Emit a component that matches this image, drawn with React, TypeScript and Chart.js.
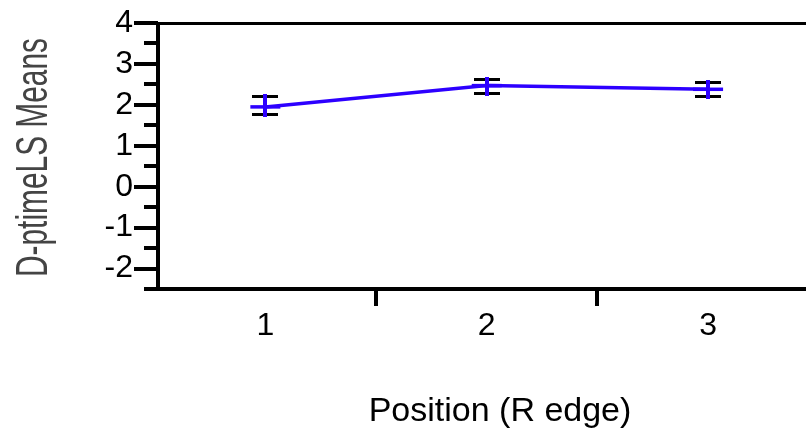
import React, { useEffect, useRef } from 'react';
import { Chart, registerables } from 'chart.js';

Chart.register(...registerables);

// ---- data ----
const positions = [1, 2, 3];
const lsMeans = [1.95, 2.47, 2.38];
const upperLimits = [2.21, 2.64, 2.55];
const lowerLimits = [1.78, 2.29, 2.21];
const xTickValues = [1, 2, 3];
const xMinorTickValues = [1.5, 2.5];
const yTickValues = [-2, -1, 0, 1, 2, 3, 4];
const yMinorTickValues = [-1.5, -0.5, 0.5, 1.5, 2.5, 3.5];
const xAxisTitle = 'Position (R edge)';
const yAxisTitle = 'D-ptimeLS Means';

const BLUE = 'rgb(45,0,255)';
const FONT = '"Liberation Sans", Arial, sans-serif';

const framePlugin = {
  id: 'frameAndErrorBars',
  afterDatasetsDraw(chart: any) {
    const { ctx, chartArea, scales } = chart;
    const xs = scales.x;
    const ys = scales.y;
    const L = Math.round(chartArea.left);
    const T = Math.round(chartArea.top);
    const B = Math.round(chartArea.bottom);
    const W = chart.width;
    ctx.save();
    ctx.fillStyle = '#000';
    // top line
    ctx.fillRect(L, T - 1, W - L, 3);
    // bottom line (extends left like a minor tick)
    ctx.fillRect(L - 14, B - 2, W - L + 14, 4);
    // left axis
    ctx.fillRect(L - 2, T - 1, 4, B - T + 3);
    // major y ticks
    yTickValues.forEach((v) => {
      const py = Math.round(ys.getPixelForValue(v));
      ctx.fillRect(L - 24, py - 2, 24, 4);
    });
    // minor y ticks
    yMinorTickValues.forEach((v) => {
      const py = Math.round(ys.getPixelForValue(v));
      ctx.fillRect(L - 14, py - 2, 14, 4);
    });
    // minor x ticks
    xMinorTickValues.forEach((v) => {
      const px = Math.round(xs.getPixelForValue(v));
      ctx.fillRect(px - 2, B, 4, 17);
    });
    // error bars
    positions.forEach((p, i) => {
      const px = Math.round(xs.getPixelForValue(p));
      const pu = Math.round(ys.getPixelForValue(upperLimits[i]));
      const pl = Math.round(ys.getPixelForValue(lowerLimits[i]));
      ctx.fillStyle = '#000';
      ctx.fillRect(px - 13, pu - 1, 26, 3);
      ctx.fillRect(px - 13, pl - 1, 26, 3);
      ctx.fillStyle = BLUE;
      ctx.fillRect(px - 2, pu - 2, 4, pl - pu + 5);
    });
    // y axis title (condensed)
    ctx.save();
    ctx.translate(47, 277);
    ctx.rotate(-Math.PI / 2);
    ctx.font = `45px ${FONT}`;
    const w = ctx.measureText(yAxisTitle).width;
    ctx.scale(239 / w, 1);
    ctx.fillStyle = '#444';
    ctx.textAlign = 'left';
    ctx.textBaseline = 'alphabetic';
    ctx.fillText(yAxisTitle, 0, 0);
    ctx.restore();
    ctx.restore();
  },
};

export default function App() {
  const canvasRef = useRef<HTMLCanvasElement | null>(null);

  useEffect(() => {
    document.body.style.margin = '0';
    const canvas = canvasRef.current;
    if (!canvas) return;
    const chart = new Chart(canvas, {
      type: 'line',
      data: {
        datasets: [
          {
            data: positions.map((p, i) => ({ x: p, y: lsMeans[i] })),
            borderColor: BLUE,
            borderWidth: 3.5,
            pointStyle: 'line',
            pointRadius: 15,
            pointBorderWidth: 3.5,
            pointBorderColor: BLUE,
            pointBackgroundColor: BLUE,
            tension: 0,
          },
        ],
      },
      options: {
        responsive: false,
        animation: false,
        layout: { autoPadding: false, padding: { top: 23, left: 0, right: 0, bottom: 0 } },
        plugins: {
          legend: { display: false },
          tooltip: { enabled: false },
        },
        scales: {
          x: {
            type: 'linear',
            min: 0.515,
            max: 3.605,
            grid: { display: false, drawTicks: false },
            border: { display: false },
            afterBuildTicks: (scale: any) => {
              scale.ticks = xTickValues.map((v) => ({ value: v }));
            },
            afterFit: (scale: any) => {
              scale.height = 140;
              scale.paddingLeft = 0;
              scale.paddingRight = 0;
            },
            ticks: {
              color: '#000',
              padding: 18,
              font: { family: FONT, size: 32 },
              maxRotation: 0,
            },
            title: {
              display: true,
              text: xAxisTitle,
              color: '#000',
              font: { family: FONT, size: 34, lineHeight: 1 },
              padding: { top: 0, bottom: 0 },
            },
          },
          y: {
            type: 'linear',
            min: -2.5,
            max: 4,
            grid: { display: false, drawTicks: false },
            border: { display: false },
            afterBuildTicks: (scale: any) => {
              scale.ticks = yTickValues.map((v) => ({ value: v }));
            },
            afterFit: (scale: any) => {
              scale.width = 158;
              scale.paddingTop = 0;
              scale.paddingBottom = 0;
            },
            ticks: {
              color: '#000',
              padding: 25,
              font: { family: FONT, size: 32 },
            },
          },
        },
      },
      plugins: [framePlugin],
    });
    return () => chart.destroy();
  }, []);

  return (
    <div style={{ width: 806, height: 429, overflow: 'hidden', background: '#fff' }}>
      <canvas ref={canvasRef} width={842} height={429} style={{ display: 'block' }} />
    </div>
  );
}
